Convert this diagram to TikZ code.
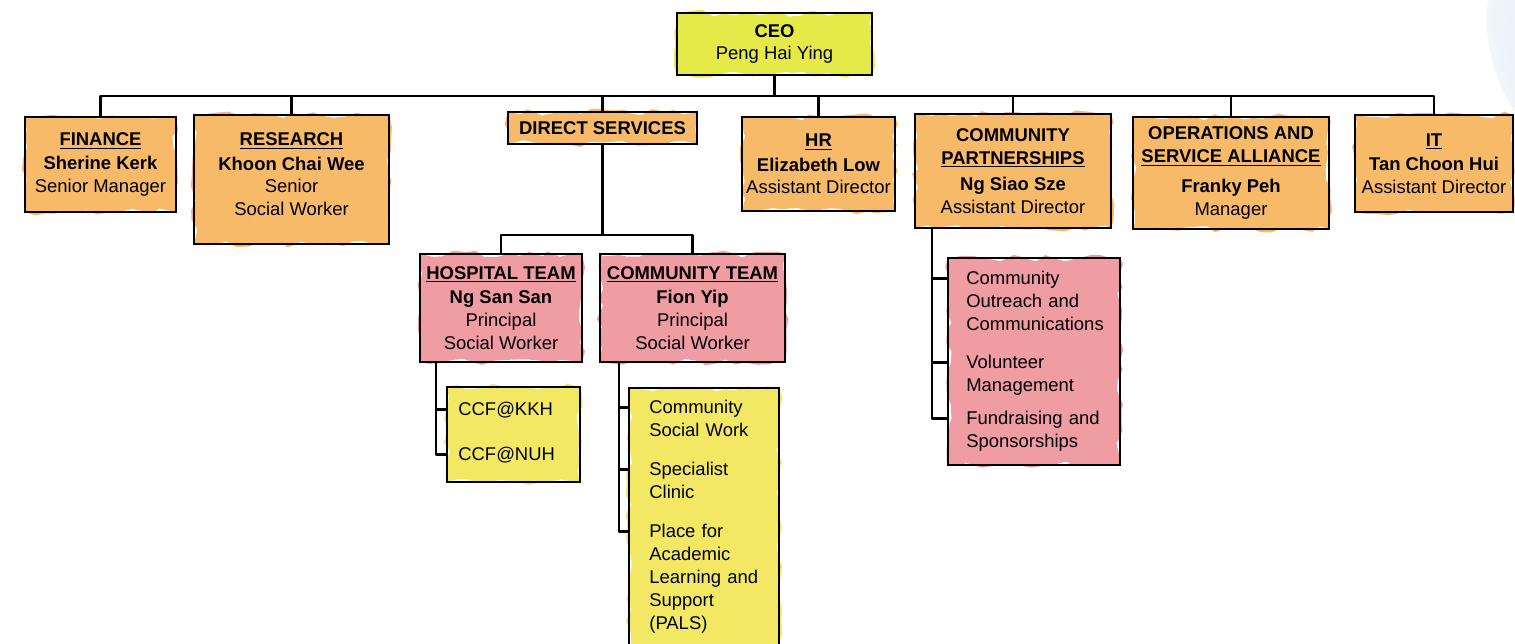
\documentclass[tikz,border=0pt]{standalone}
\usepackage{fontspec}
\setmainfont{Liberation Sans}
\usetikzlibrary{positioning, calc, decorations.pathmorphing}

\definecolor{ceoyellow}{RGB}{230,234,72}
\definecolor{deptorange}{RGB}{247,186,104}
\definecolor{teampink}{RGB}{239,156,163}
\definecolor{listyellow}{RGB}{243,232,100}
\definecolor{skyblob}{RGB}{206,226,240}

\begin{document}
\begin{tikzpicture}[x=0.02cm, y=-0.02cm,
    every node/.style={font=\fontsize{10.5}{13}\selectfont},
    box/.style={draw, line width=1.3pt, align=center, inner sep=1pt},
    wash/.style={preaction={fill=#1, decorate,
        decoration={random steps, segment length=6pt, amplitude=2pt}}},
    item/.style={anchor=base west, align=left, text width=3.2cm, inner sep=0pt},
    link/.style={line width=1.3pt, line join=round}
  ]
    \useasboundingbox (0,0) rectangle (1515,644);
    \begin{scope}
        \clip (0,0) rectangle (1515,644);
        \shade[inner color=skyblob, outer color=skyblob!30] (1650,20) circle (163);
    \end{scope}

    % top level
    \node[box, wash=ceoyellow, minimum width=3.9cm, minimum height=1.24cm] (ceo) at (774.5,44)
        {\textbf{CEO}\\Peng Hai Ying};

    % departments
    \node[box, wash=deptorange, minimum width=3.02cm, minimum height=1.9cm] (finance) at (100.5,164.5)
        {\textbf{\underline{FINANCE}}\\[1pt]\textbf{Sherine Kerk}\\Senior Manager};
    \node[box, wash=deptorange, minimum width=3.9cm, minimum height=2.58cm] (research) at (291.5,179.5)
        {\textbf{\underline{RESEARCH}}\\[1pt]\textbf{Khoon Chai Wee}\\Senior\\Social Worker\\[-7pt]\mbox{}};
    \node[box, wash=deptorange, minimum width=3.78cm, minimum height=0.64cm] (direct) at (602.5,128)
        {\textbf{DIRECT SERVICES}};
    \node[box, wash=deptorange, minimum width=3.06cm, minimum height=1.88cm] (hr) at (818.5,164)
        {\textbf{\underline{HR}}\\[1pt]\textbf{Elizabeth Low}\\Assistant Director};
    \node[box, wash=deptorange, minimum width=3.92cm, minimum height=2.28cm] (partner) at (1013,171)
        {\textbf{COMMUNITY}\\\textbf{\underline{PARTNERSHIPS}}\\[2pt]\textbf{Ng Siao Sze}\\Assistant Director};
    \node[box, wash=deptorange, minimum width=3.92cm, minimum height=2.24cm] (ops) at (1231,173)
        {\textbf{OPERATIONS AND}\\\textbf{\underline{SERVICE ALLIANCE}}\\[4pt]\textbf{Franky Peh}\\Manager};
    \node[box, wash=deptorange, minimum width=3.16cm, minimum height=1.94cm] (it) at (1434,163.5)
        {\textbf{\underline{IT}}\\[1pt]\textbf{Tan Choon Hui}\\Assistant Director};

    % teams under direct services
    \node[box, wash=teampink, minimum width=3.24cm, minimum height=2.16cm] (hosp) at (501,308)
        {\textbf{\underline{HOSPITAL TEAM}}\\[1pt]\textbf{Ng San San}\\Principal\\Social Worker};
    \node[box, wash=teampink, minimum width=3.7cm, minimum height=2.16cm] (commteam) at (692.5,308)
        {\textbf{\underline{COMMUNITY TEAM}}\\[1pt]\textbf{Fion Yip}\\Principal\\Social Worker};

    % lists
    \node[box, wash=listyellow, minimum width=2.66cm, minimum height=1.9cm] (ccfs) at (513.5,434.5) {};
    \node[box, wash=listyellow, minimum width=3.0cm, minimum height=5.28cm] (cbox) at (704,520) {};
    \node[box, wash=teampink, minimum width=3.44cm, minimum height=4.14cm] (pbox) at (1034,361.5) {};

    \node[item] (kkh) at (458,416) {CCF@KKH};
    \node[item] (nuh) at (458,461) {CCF@NUH};
    \node[item] (csw) at (649,414) {Community\\Social Work};
    \node[item] (spec) at (649,476) {Specialist\\Clinic};
    \node[item] (pals) at (649,538) {Place for\\Academic\\Learning and\\Support\\(PALS)};
    \node[item] (outreach) at (966,285) {Community\\Outreach and\\Communications};
    \node[item] (vol) at (966,369) {Volunteer\\Management};
    \node[item] (fund) at (966,425) {Fundraising and\\Sponsorships};

    \coordinate (bus) at (774,96);
    \coordinate (dsbus) at (603,235);
    \coordinate (htrunk) at (436,362);
    \coordinate (ctrunk) at (619,362);
    \coordinate (ptrunk) at (932,228);

    \draw[link]
        (ceo.south) -- (ceo.south |- bus)
        (finance.north) |- (it.north |- bus) -- (it.north)
        (research.north) -- (research.north |- bus)
        (direct.north) -- (direct.north |- bus)
        (hr.north) -- (hr.north |- bus)
        (partner.north) -- (partner.north |- bus)
        (ops.north) -- (ops.north |- bus)
        (direct.south) -- (direct.south |- dsbus)
        (hosp.north) |- (dsbus) -| (commteam.north)
        ;

    \draw[link]
        (htrunk) |- ($(nuh.base -| ccfs.west)+(0,-6.6)$)
        ($(kkh.base -| htrunk)+(0,-6.6)$) -- ($(kkh.base -| ccfs.west)+(0,-6.6)$)
        (ctrunk) |- ($(pals.base -| cbox.west)+(0,-6.6)$)
        ($(csw.base -| ctrunk)+(0,-6.6)$) -- ($(csw.base -| cbox.west)+(0,-6.6)$)
        ($(spec.base -| ctrunk)+(0,-6.6)$) -- ($(spec.base -| cbox.west)+(0,-6.6)$)
        (ptrunk) |- ($(fund.base -| pbox.west)+(0,-6.6)$)
        ($(outreach.base -| ptrunk)+(0,-6.6)$) -- ($(outreach.base -| pbox.west)+(0,-6.6)$)
        ($(vol.base -| ptrunk)+(0,-6.6)$) -- ($(vol.base -| pbox.west)+(0,-6.6)$)
        ;
\end{tikzpicture}
\end{document}
